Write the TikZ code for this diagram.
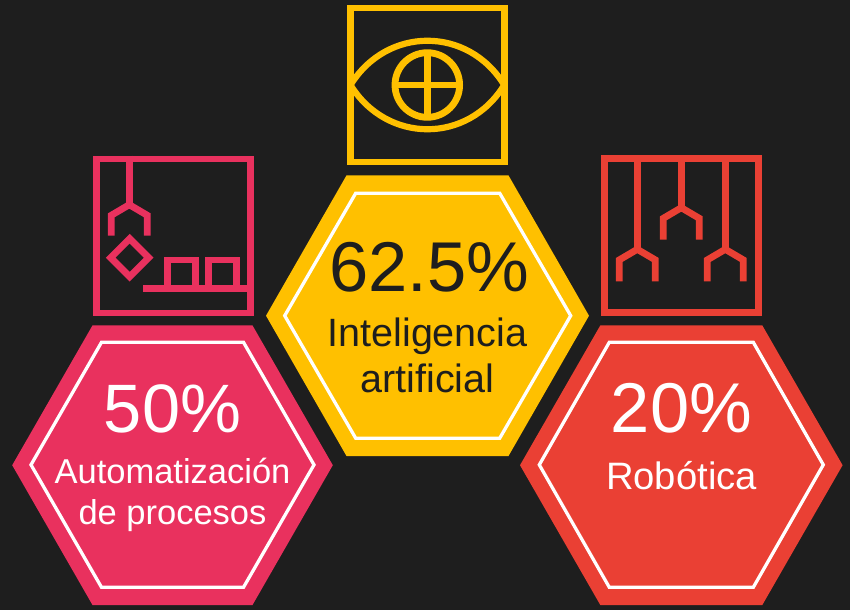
\documentclass[tikz,border=0pt]{standalone}
\usepackage{fontspec}
\setmainfont{Liberation Sans}
\definecolor{bgc}{HTML}{1E1E1E}
\definecolor{pinkc}{HTML}{E9315E}
\definecolor{yelc}{HTML}{FFC000}
\definecolor{redc}{HTML}{EA4034}
\tikzset{
  x=1pt,y=-1pt,
  icon/.style={line width=6.8pt,line join=miter,line cap=butt},
  innerhex/.style={line width=3.3pt,line join=miter,draw=white},
  big/.style={font=\fontsize{70.5}{70}\selectfont,inner sep=0pt,anchor=base},
  bigp/.style={font=\fontsize{68.5}{70}\selectfont,inner sep=0pt,anchor=base},
  smalla/.style={font=\fontsize{34.5}{41}\selectfont,align=center,inner sep=0pt},
  smallb/.style={font=\fontsize{39.5}{45.5}\selectfont,align=center,inner sep=0pt},
  smallc/.style={font=\fontsize{38.2}{47}\selectfont,inner sep=0pt,anchor=base},
}
\newcommand{\hexa}[6]{% cx cy halfw halftop halfh color
  \fill[#6] ({#1-#3},#2) -- ({#1-#4},{#2-#5}) -- ({#1+#4},{#2-#5}) -- ({#1+#3},#2) -- ({#1+#4},{#2+#5}) -- ({#1-#4},{#2+#5}) -- cycle;
}
\newcommand{\inhexa}[4]{% cx cy halfw halftop
  \draw[innerhex] ({#1-#3},#2) -- ({#1-#4},{#2-122.5}) -- ({#1+#4},{#2-122.5}) -- ({#1+#3},#2) -- ({#1+#4},{#2+122.5}) -- ({#1-#4},{#2+122.5}) -- cycle;
}
\newcommand{\gripper}[5]{% x top apex bottom color
  \draw[icon,#5] (#1,#2) -- (#1,{#3+1});
  \draw[icon,#5] ({#1-18},#4) -- ({#1-18},{#3+10.6}) -- (#1,#3) -- ({#1+18},{#3+10.6}) -- ({#1+18},#4);
}
\begin{document}
\begin{tikzpicture}
\useasboundingbox (0,0) rectangle (850,610);
\fill[bgc] (0,0) rectangle (850,610);
% hexagons
\hexa{172.5}{465.2}{160.3}{80}{139.8}{pinkc}
\hexa{427.5}{315.7}{161.5}{81}{140.3}{yelc}
\hexa{681.3}{465.2}{161.3}{81}{139.8}{redc}
\inhexa{172.5}{464.8}{141.5}{71}
\inhexa{427.7}{315.7}{143}{72}
\inhexa{681.3}{464.8}{142}{72}
% left icon
\draw[icon,pinkc] (96.5,159) rectangle (250.5,313);
\gripper{129.3}{155.5}{204.7}{235.7}{pinkc}
\draw[icon,pinkc] (129.7,238.7) -- (148.7,257.7) -- (129.7,276.7) -- (110.7,257.7) -- cycle;
\draw[icon,pinkc] (143.3,288.3) -- (250.5,288.3);
\draw[icon,pinkc] (167.7,288.3) -- (167.7,260) -- (195.7,260) -- (195.7,288.3);
\draw[icon,pinkc] (208.3,288.3) -- (208.3,260) -- (236.7,260) -- (236.7,288.3);
% middle icon
\begin{scope}
\clip (347,4.5) rectangle (507.7,165.5);
\draw[line width=6.2pt,line join=miter,miter limit=20,yelc] (350.5,85) .. controls (387,26) and (468,26) .. (504.2,85) .. controls (468,144) and (387,144) .. (350.5,85) -- cycle;
\end{scope}
\draw[icon,yelc] (350.5,8) rectangle (504.2,162);
\draw[icon,yelc] (427.3,85) circle (32.3);
\draw[icon,yelc] (395,85) -- (459.6,85);
\draw[icon,yelc] (427.3,52.7) -- (427.3,117.3);
% right icon
\draw[icon,redc] (604.5,158.2) rectangle (758.2,312.2);
\gripper{637.3}{155}{249.3}{281.3}{redc}
\gripper{681.3}{155}{207.7}{239.7}{redc}
\gripper{725.3}{155}{249.3}{281.3}{redc}
% labels
\node[bigp,text=white] (a) at (172.5,432) {50\%};
\node[smalla,text=white] (a2) at (172.5,495) {Automatización\\de procesos};
\node[big,text=bgc] (b) at (429.5,291) {62.5\%};
\node[smallb,text=bgc] (b2) at (427.5,355.2) {Inteligencia\\artificial};
\node[big,text=white] (c) at (681.5,432) {20\%};
\node[smallc,text=white] (c2) at (681.5,489) {Robótica};
\end{tikzpicture}
\end{document}
